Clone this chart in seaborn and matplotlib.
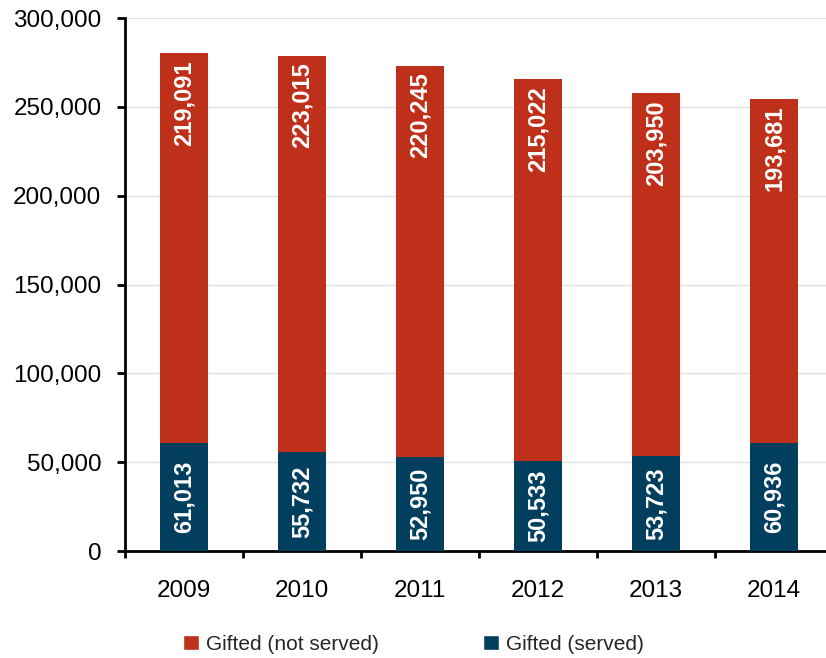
import matplotlib
matplotlib.use("Agg")
import matplotlib.pyplot as plt
import matplotlib.ticker as mticker
from matplotlib.patches import Patch
import numpy as np
import pandas as pd
import seaborn as sns

# Gifted students by year
years = ["2009", "2010", "2011", "2012", "2013", "2014"]
not_served = [219091, 223015, 220245, 215022, 203950, 193681]
served = [61013, 55732, 52950, 50533, 53723, 60936]

red = "#BE3019"
navy = "#023F5E"

sns.set_theme(style="white")
plt.rcParams["font.family"] = ["Liberation Sans", "DejaVu Sans"]

df = pd.DataFrame({"year": years, "not_served": not_served, "served": served})
df["total"] = df["not_served"] + df["served"]

fig = plt.figure(figsize=(8.26, 6.58), dpi=100)
ax = fig.add_axes([125 / 826, 1 - 551 / 658, 708 / 826, 533 / 658])

# Stacked bars: full height in red, served portion in navy over it
sns.barplot(data=df, x="year", y="total", color=red, width=0.41,
            saturation=1, ax=ax, zorder=2, linewidth=0)
sns.barplot(data=df, x="year", y="served", color=navy, width=0.41,
            saturation=1, ax=ax, zorder=3, linewidth=0)

label_kw = dict(rotation=90, ha="center", color="white",
                fontsize=17, fontweight="bold", zorder=5)
for i, row in df.iterrows():
    ax.annotate(f"{row['not_served']:,}", xy=(i, row["total"]),
                xytext=(0, -5), textcoords="offset points", va="top", **label_kw)
    ax.text(i, row["served"] / 2, f"{row['served']:,}", va="center", **label_kw)

ax.set_ylim(0, 300000)
ax.set_xlim(-0.5, 5.5)
ax.yaxis.set_major_locator(mticker.MultipleLocator(50000))
ax.yaxis.set_major_formatter(mticker.FuncFormatter(lambda v, p: f"{int(v):,}"))
ax.grid(axis="y", color="#e2e2e2", linewidth=1.0, zorder=0)
ax.set_axisbelow(True)
ax.set_xlabel("")
ax.set_ylabel("")

for s in ("top", "right"):
    ax.spines[s].set_visible(False)
for s in ("left", "bottom"):
    ax.spines[s].set_color("black")
    ax.spines[s].set_linewidth(2.0)

ax.tick_params(axis="y", which="major", direction="out", length=6, width=2.0,
               color="black", labelsize=17.5, pad=11, left=True)
ax.tick_params(axis="x", which="major", length=0, labelsize=17.5, pad=21)
ax.xaxis.set_minor_locator(mticker.FixedLocator(np.arange(-0.5, 6.0, 1.0)))
ax.tick_params(axis="x", which="minor", direction="out", length=5, width=2.0,
               color="black", bottom=True)
for lbl in ax.get_xticklabels() + ax.get_yticklabels():
    lbl.set_color("black")

handles = [Patch(facecolor=red, label="Gifted (not served)"),
           Patch(facecolor=navy, label="Gifted (served)")]
fig.legend(handles=handles, loc="lower center", bbox_to_anchor=(0.5, -0.022),
           ncol=2, frameon=False, fontsize=15, handlelength=0.8,
           handleheight=0.8, handletextpad=0.3, columnspacing=5.0)

fig.savefig("out.png", dpi=100)
